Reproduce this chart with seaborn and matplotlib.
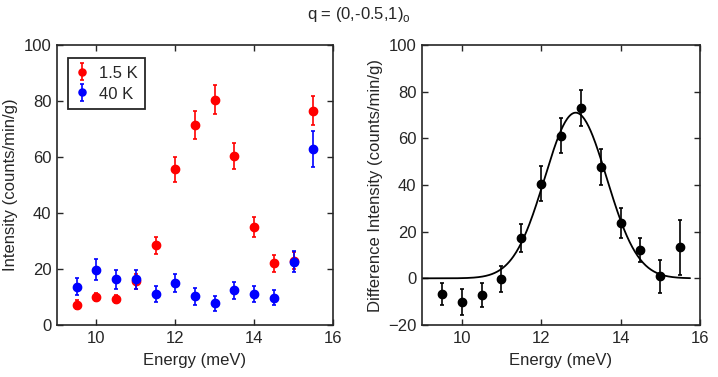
import numpy as np
import pandas as pd
import matplotlib
matplotlib.use("Agg")
import matplotlib.pyplot as plt
import seaborn as sns

# ---- data ----
energy = [9.5, 10.0, 10.5, 11.0, 11.5, 12.0, 12.5, 13.0, 13.5, 14.0, 14.5, 15.0, 15.5]
int_15K = [7.3, 9.9, 9.3, 15.6, 28.4, 55.6, 71.6, 80.5, 60.3, 35.0, 22.0, 23.0, 76.5]
err_15K = [1.5, 1.5, 1.5, 2.7, 3.0, 4.5, 5.0, 5.3, 4.6, 3.6, 2.9, 3.0, 5.2]
int_40K = [13.7, 19.7, 16.3, 16.3, 11.1, 15.0, 10.3, 7.8, 12.4, 11.1, 9.7, 22.6, 62.9]
err_40K = [3.1, 3.8, 3.5, 3.3, 3.0, 3.3, 3.0, 2.7, 3.0, 3.0, 2.7, 3.8, 6.5]
diff = [-6.7, -10.0, -7.2, -0.4, 17.1, 40.5, 61.1, 72.9, 47.8, 23.7, 12.1, 0.8, 13.3]
diff_err = [4.8, 5.6, 5.0, 5.5, 6.0, 7.5, 7.4, 7.6, 7.7, 6.3, 5.0, 7.0, 11.8]
fit_amp, fit_center, fit_sigma = 71.0, 12.87, 0.78
fit_range = (9.0, 15.75)

sns.set_theme(style="ticks")
plt.rcParams['font.family'] = ['Liberation Sans', 'DejaVu Sans']
plt.rcParams['mathtext.fontset'] = 'custom'
plt.rcParams['mathtext.rm'] = 'Liberation Sans'
FS = 12
edge = '#262626'

fig = plt.figure(figsize=(7.18, 3.77), dpi=100)
ax1 = fig.add_axes([57/718, 1-325/377, 276/718, 280/377])
ax2 = fig.add_axes([422/718, 1-325/377, 278/718, 280/377])

df = pd.DataFrame({"E": energy, "i15": int_15K, "e15": err_15K,
                   "i40": int_40K, "e40": err_40K, "d": diff, "de": diff_err})

ms = 6.0
h1 = ax1.errorbar(df.E, df.i15, yerr=df.e15, fmt='o', color='#ff0000', ms=ms,
                  capsize=1.6, elinewidth=1.2, capthick=1.2, label='1.5 K', zorder=2)
h2 = ax1.errorbar(df.E, df.i40, yerr=df.e40, fmt='o', color='#0000ff', ms=ms,
                  capsize=1.6, elinewidth=1.2, capthick=1.2, label='40 K', zorder=3)
sns.scatterplot(data=df, x="E", y="i15", ax=ax1, color='#ff0000', s=ms**2, linewidth=0, zorder=2, legend=False)
sns.scatterplot(data=df, x="E", y="i40", ax=ax1, color='#0000ff', s=ms**2, linewidth=0, zorder=3, legend=False)

leg = ax1.legend(handles=[h1, h2], loc='upper left', bbox_to_anchor=(0.04, 0.954),
                 fontsize=FS, frameon=True, fancybox=False, edgecolor=edge, framealpha=1,
                 handlelength=0.8, handletextpad=0.6, borderpad=0.45, labelspacing=0.3,
                 borderaxespad=0.0, markerscale=0.85, handleheight=0.9)
leg.get_frame().set_linewidth(1.3)

ax2.errorbar(df.E, df.d, yerr=df.de, fmt='o', color='black', ms=ms,
             capsize=1.6, elinewidth=1.2, capthick=1.2, zorder=3)
sns.scatterplot(data=df, x="E", y="d", ax=ax2, color='black', s=ms**2, linewidth=0, zorder=3, legend=False)
xf = np.linspace(fit_range[0], fit_range[1], 400)
yf = fit_amp * np.exp(-(xf - fit_center)**2 / (2 * fit_sigma**2))
sns.lineplot(x=xf, y=yf, ax=ax2, color='black', linewidth=1.3, zorder=2)

for ax, ylim, yt, ylab in [(ax1, (0, 100), [0, 20, 40, 60, 80, 100], 'Intensity (counts/min/g)'),
                           (ax2, (-20, 100), [-20, 0, 20, 40, 60, 80, 100], 'Difference Intensity (counts/min/g)')]:
    ax.set_xlim(9, 16)
    ax.set_ylim(*ylim)
    ax.set_xticks([10, 12, 14, 16])
    ax.set_yticks(yt)
    ax.set_xlabel('Energy (meV)', fontsize=FS, color=edge, labelpad=5)
    ax.set_ylabel(ylab, fontsize=FS, color=edge, labelpad=4)
    ax.tick_params(direction='in', top=True, right=True, length=4, width=1.0,
                   labelsize=FS, colors=edge, pad=4)
    for s in ax.spines.values():
        s.set_visible(True)
        s.set_color(edge)
        s.set_linewidth(1.2)

fig.text(0.5, 1 - 14/377, r'q = (0,-0.5,1)$_\mathregular{o}$', ha='center', va='center',
         fontsize=FS, color=edge)

fig.savefig('out.png', dpi=100)
